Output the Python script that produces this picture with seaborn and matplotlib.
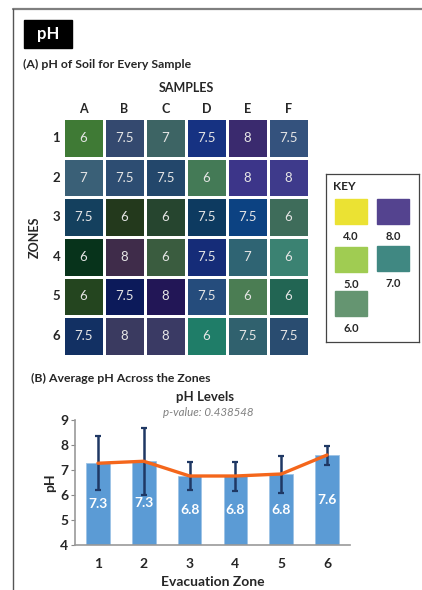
import matplotlib
matplotlib.use("Agg")
import matplotlib.pyplot as plt
import numpy as np
import pandas as pd
import seaborn as sns
from matplotlib.patches import Rectangle
from matplotlib.lines import Line2D

sns.set_theme(style="white")
plt.rcParams['font.family'] = ['Lato', 'DejaVu Sans']

# ---------------- data ----------------
samples = ["A", "B", "C", "D", "E", "F"]
zones = ["1", "2", "3", "4", "5", "6"]
ph_values = [
    [6, 7.5, 7, 7.5, 8, 7.5],
    [7, 7.5, 7.5, 6, 8, 8],
    [7.5, 6, 6, 7.5, 7.5, 6],
    [6, 8, 6, 7.5, 7, 6],
    [6, 7.5, 8, 7.5, 6, 6],
    [7.5, 8, 8, 6, 7.5, 7.5],
]
cell_colors = [
    ["#3f7a35", "#34496f", "#3d6464", "#163282", "#3a2a6e", "#34527d"],
    ["#3a6077", "#2d4d72", "#23476b", "#447a56", "#3c3589", "#3e3a8b"],
    ["#14405e", "#23391c", "#26452f", "#0d3a60", "#0c4282", "#3e6c5a"],
    ["#07331b", "#3f2c4a", "#3a5c3f", "#152c78", "#2f6473", "#3b8272"],
    ["#24451f", "#0c1a5a", "#221656", "#254c7c", "#4b7d53", "#226553"],
    ["#123063", "#3a3a60", "#3a3a64", "#1f7d68", "#30616e", "#294c70"],
]
key_labels = ["4.0", "8.0", "5.0", "7.0", "6.0"]
key_colors = ["#ebe233", "#54438f", "#a0cc52", "#408882", "#659571"]

zone_labels = ["1", "2", "3", "4", "5", "6"]
zone_means = [7.27, 7.35, 6.76, 6.76, 6.84, 7.6]
zone_err = [1.08, 1.33, 0.56, 0.58, 0.74, 0.38]
p_value = "0.438548"

W, H = 422, 590
fig = plt.figure(figsize=(W / 100, H / 100), dpi=100)

def ax_px(x0, y0, x1, y1):
    return fig.add_axes([x0 / W, 1 - y1 / H, (x1 - x0) / W, (y1 - y0) / H])

def ftxt(x, y, s, **kw):
    fig.text(x / W, 1 - y / H, s, **kw)

# frame
fig.add_artist(Line2D([13 / W, 1], [1 - 9 / H, 1 - 9 / H], color="#7f7f7f", lw=1.6))
fig.add_artist(Line2D([13 / W, 13 / W], [1 - 9 / H, 0], color="#555555", lw=1.0))

# title box
fig.add_artist(Rectangle((24 / W, 1 - 48 / H), 48 / W, 28 / H, color="black",
                         transform=fig.transFigure))
ftxt(48, 34, "pH", color="white", fontsize=12, fontweight="bold", ha="center", va="center")
ftxt(23, 64, "(A) pH of Soil for Every Sample", fontsize=8.8, fontweight="bold", va="center")
ftxt(186, 88, "SAMPLES", fontsize=9, fontweight="bold", ha="center", va="center")
ftxt(35, 237, "ZONES", fontsize=9, fontweight="bold", ha="center", va="center", rotation=90)

# ---------------- heatmap ----------------
axh = ax_px(63, 118, 309, 356)
df = pd.DataFrame(ph_values, index=zones, columns=samples)
sns.heatmap(df, ax=axh, annot=True, fmt="g", cbar=False, cmap="viridis",
            linewidths=1.8, linecolor="white",
            annot_kws={"color": "#e6e6e6", "fontsize": 9.5})
mesh = axh.collections[0]
mesh.set_array(None)
mesh.set_facecolor([c for row in cell_colors for c in row])
axh.xaxis.tick_top()
axh.tick_params(length=0, pad=2)
axh.set_xticklabels(samples, fontsize=9, fontweight="bold")
axh.set_yticklabels(zones, fontsize=9.5, fontweight="bold", rotation=0)
axh.set_xlabel("")
axh.set_ylabel("")

# ---------------- key ----------------
axk = ax_px(326, 174, 419, 342)
axk.set_xlim(326, 419)
axk.set_ylim(342, 174)
axk.set_xticks([])
axk.set_yticks([])
for s in axk.spines.values():
    s.set_color("#444444")
    s.set_linewidth(0.9)
axk.text(333, 186, "KEY", fontsize=8.5, fontweight="bold", va="center")
key_pos = [(335, 199), (377, 199), (335, 247), (377, 246), (335, 291)]
for (kx, ky), lab, col in zip(key_pos, key_labels, key_colors):
    axk.add_patch(Rectangle((kx, ky), 32, 25, color=col))
    axk.text(kx + 16, ky + 38, lab, fontsize=8, fontweight="bold", ha="center", va="center")

# ---------------- bar chart ----------------
ftxt(31, 378, "(B) Average pH Across the Zones", fontsize=8.8, fontweight="bold", va="center")
ftxt(205, 397, "pH Levels", fontsize=9.5, fontweight="bold", ha="center", va="center")
ftxt(208, 413, "p-value: " + p_value, fontsize=8.3, style="italic", color="#808080",
     ha="center", va="center")

axb = ax_px(75, 420, 350, 545)
bdf = pd.DataFrame({"zone": zone_labels, "mean": zone_means})
sns.barplot(data=bdf, x="zone", y="mean", color="#5b9bd5", saturation=1,
            width=0.52, ax=axb, errorbar=None)
for p in axb.patches:
    p.set_edgecolor("#9dc3e6")
    p.set_linewidth(0.6)
xs = np.arange(len(zone_means))
axb.errorbar(xs, zone_means, yerr=zone_err, fmt="none", ecolor="#1f3864",
             elinewidth=1.8, capsize=2.5, capthick=1.6, zorder=3)
axb.plot(xs, zone_means, color="#f4661b", lw=2.4, zorder=4, solid_capstyle="round")
for x, m in zip(xs, zone_means):
    axb.text(x, (4 + m) / 2, f"{m:.1f}", color="white", fontsize=10, fontweight="bold",
             ha="center", va="center", zorder=5)
axb.set_ylim(4, 9)
axb.set_xlim(-0.5, 5.5)
axb.set_yticks([4, 5, 6, 7, 8, 9])
axb.set_yticklabels(["4", "5", "6", "7", "8", "9"], fontsize=10, fontweight="bold")
axb.set_xticklabels(zone_labels, fontsize=10, fontweight="bold")
axb.tick_params(axis="y", length=3, width=0.8, color="#888888", pad=2, left=True)
axb.tick_params(axis="x", length=0, pad=9)
sns.despine(ax=axb)
for s in ("left", "bottom"):
    axb.spines[s].set_color("#999999")
    axb.spines[s].set_linewidth(1.2)
axb.set_xlabel("Evacuation Zone", fontsize=10, fontweight="bold", labelpad=5)
axb.set_ylabel("pH", fontsize=10, fontweight="bold", labelpad=3)

fig.savefig("out.png", dpi=100)
